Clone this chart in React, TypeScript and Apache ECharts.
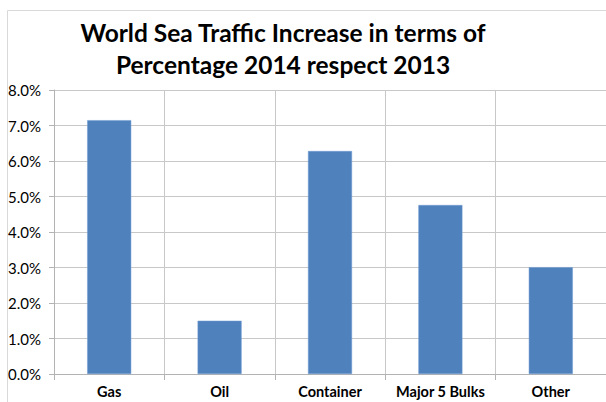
import React, { useEffect, useRef } from "react";
import * as echarts from "echarts";

const categories = ["Gas", "Oil", "Container", "Major 5 Bulks", "Other"];
const values = [7.15, 1.5, 6.28, 4.76, 3.01];
const titleLines = ["World Sea Traffic Increase in terms of", "Percentage 2014 respect 2013"];

export default function App() {
  const ref = useRef<HTMLDivElement>(null);
  useEffect(() => {
    document.body.style.margin = "0";
    const chart = echarts.init(ref.current!, null, { renderer: "svg" });
    chart.setOption({
      animation: false,
      backgroundColor: "#ffffff",
      title: {
        text: titleLines.join("\n"),
        left: 278,
        top: 11,
        textAlign: "center",
        textStyle: {
          fontFamily: "Lato",
          fontWeight: "bold",
          fontSize: 24.5,
          lineHeight: 32,
          color: "#000000",
        },
      },
      graphic: [
        {
          type: "rect",
          shape: { x: 7.5, y: 10.5, width: 620, height: 420 },
          style: { fill: "none", stroke: "#d9d9d9", lineWidth: 1 },
          silent: true,
          z: -1,
        },
      ],
      grid: { left: 54, top: 90, width: 558, bottom: 28, containLabel: false },
      xAxis: {
        type: "category",
        data: categories,
        axisLine: { show: true, lineStyle: { color: "#b3b3b3", width: 1 } },
        axisTick: { show: true, interval: 0, length: 6, lineStyle: { color: "#b3b3b3" } },
        splitLine: { show: true, interval: 0, lineStyle: { color: "#c8c8c8", width: 1 } },
        axisLabel: {
          interval: 0,
          hideOverlap: false,
          fontFamily: "Lato",
          fontWeight: "bold",
          fontSize: 14.5,
          color: "#000000",
          margin: 10,
        },
      },
      yAxis: {
        type: "value",
        min: 0,
        max: 8,
        interval: 1,
        axisLine: { show: true, lineStyle: { color: "#b3b3b3", width: 1 } },
        axisTick: { show: true, length: 5, lineStyle: { color: "#b3b3b3" } },
        splitLine: { show: true, lineStyle: { color: "#c8c8c8", width: 1 } },
        axisLabel: {
          formatter: (v: number) => v.toFixed(1) + "%",
          fontFamily: "Lato",
          fontSize: 15,
          color: "#000000",
          margin: 13,
        },
      },
      series: [
        {
          type: "bar",
          data: values,
          barWidth: 44,
          itemStyle: { color: "#4f81bd", borderColor: "#6f9ad0", borderWidth: 0.5 },
        },
      ],
    });
    return () => chart.dispose();
  }, []);
  return <div ref={ref} style={{ width: 606, height: 402, position: "absolute", left: 0, top: 0 }} />;
}
